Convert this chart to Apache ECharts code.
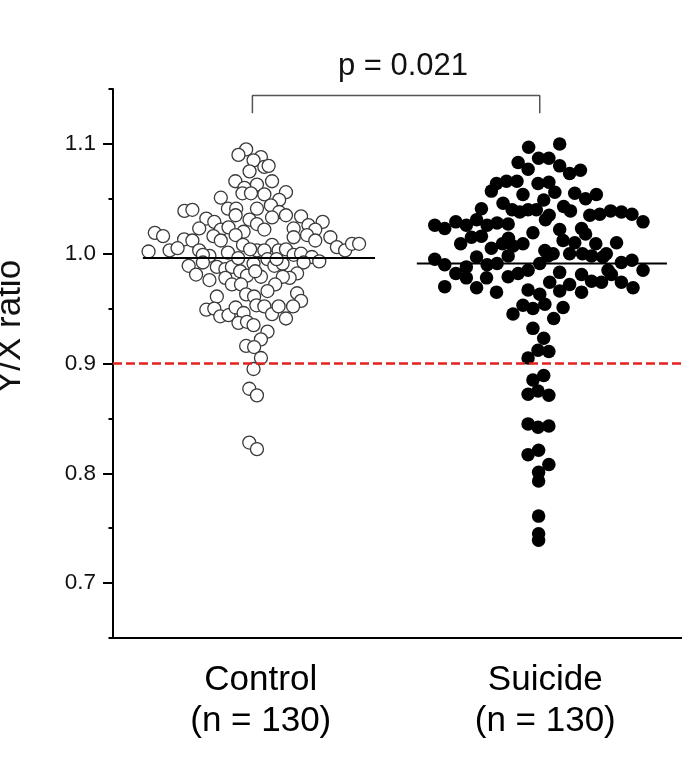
<!DOCTYPE html>
<html><head><meta charset="utf-8">
<script src="https://cdn.jsdelivr.net/npm/echarts@6/dist/echarts.min.js"></script>
<style>html,body{margin:0;padding:0;background:#fff}#c{width:682px;height:765px}</style>
</head><body><div id="c"></div>
<script>
const categories = ['Control', 'Suicide'];
const sampleSizes = [130, 130];
const yAxisTitle = 'Y/X ratio';
const pValueText = 'p = 0.021';
const yTickValues = [0.7, 0.8, 0.9, 1.0, 1.1];
const yMinorTickValues = [0.65, 0.75, 0.85, 0.95, 1.05, 1.15];
const groupMeans = [0.996, 0.991];
const cutoffValue = 0.9;

const controlValues = [
1.095,1.090,1.088,1.085,1.079,1.080,1.075,1.066,1.066,1.063,
1.060,1.055,1.055,1.054,1.056,1.051,1.049,1.044,1.041,1.041,
1.035,1.041,1.038,1.035,1.031,1.033,1.034,1.039,1.040,1.032,
1.029,1.027,1.022,1.029,1.026,1.022,1.023,1.023,1.022,1.024,
1.020,1.019,1.016,1.017,1.016,1.015,1.017,1.012,1.015,1.013,
1.012,1.012,1.008,1.008,1.006,1.003,1.009,1.009,1.002,1.003,
1.005,1.003,1.001,1.003,1.003,1.003,1.004,0.999,1.000,0.997,
0.993,0.998,0.999,1.004,0.989,0.981,0.992,0.988,0.986,0.988,
0.984,0.980,0.991,0.979,0.995,0.989,0.991,0.992,0.982,0.978,
0.979,0.976,0.978,0.972,0.972,0.972,0.961,0.963,0.961,0.966,
0.964,0.957,0.949,0.950,0.943,0.944,0.951,0.946,0.953,0.952,
0.945,0.952,0.952,0.937,0.938,0.935,0.941,0.929,0.922,0.916,
0.915,0.905,0.895,0.877,0.871,0.828,0.822,0.996,0.995,0.984];
const controlJitter = [
-0.032,-0.059,0.020,-0.006,0.032,0.047,-0.020,-0.070,0.059,0.006,
-0.038,-0.045,-0.015,0.032,0.108,-0.121,0.084,0.055,-0.096,-0.067,
-0.069,0.006,0.084,0.108,-0.020,0.059,0.161,-0.249,-0.221,-0.172,
-0.144,0.006,0.032,0.237,0.187,0.211,0.135,-0.197,-0.121,-0.094,
-0.041,-0.353,-0.324,-0.069,-0.147,0.135,0.182,0.211,0.264,-0.250,
-0.221,-0.121,-0.043,0.059,0.287,0.316,0.340,0.365,-0.375,-0.301,
-0.273,-0.197,-0.096,0.006,0.032,0.082,0.108,0.135,0.161,0.199,
0.225,-0.161,-0.184,-0.018,-0.234,-0.208,-0.184,-0.135,-0.105,-0.082,
-0.053,-0.029,-0.006,0.020,0.043,0.067,0.096,0.170,0.147,0.121,
0.097,-0.161,-0.105,-0.082,-0.050,0.070,-0.135,-0.032,-0.004,0.043,
0.147,0.161,-0.172,-0.144,-0.123,-0.094,-0.069,-0.041,0.004,0.032,
0.059,0.082,0.133,-0.059,-0.029,-0.006,0.108,0.043,0.020,-0.032,
-0.004,0.020,-0.006,-0.021,0.006,-0.021,0.006,-0.060,0.075,0.000];

const suicideValues = [
1.097,1.100,1.083,1.077,1.087,1.087,1.080,1.073,1.076,1.064,
1.066,1.066,1.064,1.065,1.056,1.057,1.054,1.055,1.050,1.054,
1.041,1.046,1.040,1.038,1.040,1.040,1.049,1.035,1.043,1.039,
1.035,1.036,1.039,1.038,1.036,1.029,1.026,1.023,1.029,1.026,
1.031,1.026,1.028,1.027,1.016,1.015,1.009,1.019,1.022,1.023,
1.018,1.012,1.010,1.009,1.010,1.005,1.009,1.007,1.009,1.003,
1.000,1.000,0.998,0.997,0.995,0.990,0.988,0.990,0.991,0.991,
0.998,0.998,0.997,1.000,0.992,0.994,0.985,0.982,0.978,0.978,
0.979,0.982,0.985,0.974,0.983,0.972,0.981,0.975,0.974,0.981,
0.974,0.969,0.970,0.969,0.965,0.967,0.963,0.966,0.965,0.953,
0.950,0.954,0.951,0.945,0.941,0.932,0.923,0.912,0.911,0.905,
0.885,0.889,0.872,0.875,0.871,0.845,0.842,0.843,0.817,0.821,
0.808,0.801,0.793,0.761,0.745,0.739,1.031,1.000,1.014,0.985];
const suicideJitter = [
-0.039,0.070,-0.076,-0.041,-0.004,0.032,0.070,0.105,0.143,-0.152,
-0.117,-0.080,-0.006,0.032,0.053,-0.170,-0.059,0.123,0.161,0.199,
-0.205,-0.129,-0.097,-0.070,-0.041,-0.012,0.014,0.033,0.084,0.108,
0.176,0.211,0.249,0.287,0.324,0.363,-0.369,-0.334,-0.295,-0.258,
-0.222,-0.185,-0.150,-0.111,-0.205,-0.240,-0.278,-0.024,0.070,0.147,
0.161,0.082,0.123,0.197,0.270,-0.170,-0.131,-0.094,-0.059,0.018,
0.047,0.105,-0.111,-0.222,-0.369,-0.334,-0.258,-0.185,-0.150,0.000,
0.029,0.182,0.222,0.234,0.287,0.324,0.363,-0.295,-0.258,-0.187,
-0.111,-0.076,-0.041,0.035,0.070,0.105,0.147,0.182,0.217,0.252,
0.287,0.328,-0.334,-0.222,-0.152,-0.041,0.000,0.070,0.147,-0.059,
-0.024,0.018,0.082,-0.094,0.049,-0.024,0.014,-0.006,0.032,-0.041,
-0.024,0.014,-0.041,-0.006,0.032,-0.041,-0.006,0.032,-0.041,-0.004,
0.032,-0.004,-0.004,-0.004,-0.004,-0.004,0.020,0.150,-0.110,0.240];

const FONT = '"Liberation Sans", Arial, Helvetica, sans-serif';
const chart = echarts.init(document.getElementById('c'), null, {renderer: 'canvas'});

function pts(vals, jit, pos) { return vals.map((v, i) => [pos + jit[i], v]); }
const meanHalf = [[-0.395, 0.421], [-0.432, 0.447]];

const option = {
  animation: false,
  backgroundColor: '#ffffff',
  grid: {left: 113, right: 0, top: 89, bottom: 127, containLabel: false},
  xAxis: {
    type: 'value', min: 0.5, max: 2.5,
    axisLine: {show: true, onZero: false, lineStyle: {color: '#000', width: 2}},
    axisTick: {show: false},
    splitLine: {show: false},
    axisLabel: {
      customValues: [1, 2],
      formatter: v => { const i = Math.round(v) - 1; return categories[i] + '\n(n = ' + sampleSizes[i] + ')'; },
      fontSize: 35, lineHeight: 41, color: '#000', fontFamily: FONT, margin: 22,
      padding: [0, 0, 0, 11]
    }
  },
  yAxis: [{
    type: 'value', min: 0.65, max: 1.15,
    axisLine: {show: true, onZero: false, lineStyle: {color: '#000', width: 2}},
    axisTick: {show: true, customValues: yTickValues, length: 10, lineStyle: {color: '#000', width: 2}},
    axisLabel: {customValues: yTickValues, formatter: v => v.toFixed(1), fontSize: 22.5, color: '#111', fontFamily: FONT, margin: 17},
    splitLine: {show: false}
  }, {
    type: 'value', min: 0.65, max: 1.15, position: 'left',
    axisLine: {show: false, onZero: false},
    axisTick: {show: true, customValues: yMinorTickValues, length: 4.5, lineStyle: {color: '#000', width: 2}},
    axisLabel: {show: false},
    splitLine: {show: false}
  }],
  graphic: [
    {type: 'text', x: 403, y: 66, z: 100,
     style: {text: pValueText, font: '31px ' + FONT, fill: '#111', align: 'center', verticalAlign: 'middle'}},
    {type: 'text', x: 10, y: 327, rotation: Math.PI / 2, z: 100,
     style: {text: yAxisTitle, font: '35px ' + FONT, fill: '#111', align: 'center', verticalAlign: 'middle'}}
  ],
  series: [
    {type: 'scatter', name: categories[0], data: pts(controlValues, controlJitter, 1), symbol: 'circle', symbolSize: 13,
     itemStyle: {color: '#ffffff', borderColor: '#3a3a3a', borderWidth: 1.3, opacity: 1}, z: 2},
    {type: 'scatter', name: categories[1], data: pts(suicideValues, suicideJitter, 2), symbol: 'circle', symbolSize: 13.5,
     itemStyle: {color: '#000000', opacity: 1}, z: 2},
    {type: 'line', data: [[1 + meanHalf[0][0], groupMeans[0]], [1 + meanHalf[0][1], groupMeans[0]]], symbol: 'none',
     lineStyle: {color: '#000', width: 2}, z: 5, silent: true},
    {type: 'line', data: [[2 + meanHalf[1][0], groupMeans[1]], [2 + meanHalf[1][1], groupMeans[1]]], symbol: 'none',
     lineStyle: {color: '#000', width: 2}, z: 5, silent: true},
    {type: 'line', data: [[0.5, cutoffValue], [2.5, cutoffValue]], symbol: 'none',
     lineStyle: {color: '#e3221e', width: 2.5, type: [9, 4]}, z: 6, silent: true},
    {type: 'line', data: [[0.99, 1.128], [0.99, 1.144], [2.0, 1.144], [2.0, 1.128]], symbol: 'none',
     lineStyle: {color: '#555', width: 1.5}, z: 5, silent: true}
  ]
};
chart.setOption(option);
</script></body></html>
